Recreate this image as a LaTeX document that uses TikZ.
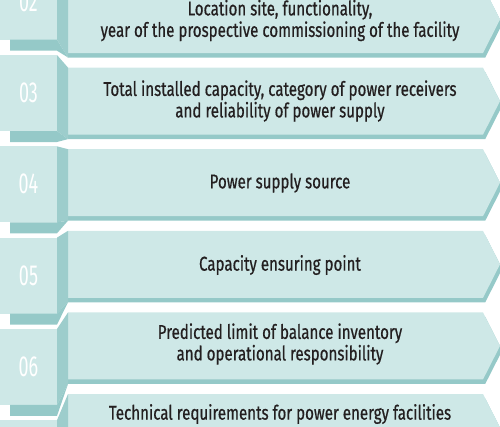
\documentclass[tikz,border=0pt]{standalone}
\usepackage{fontspec}
\setmainfont[FakeStretch=0.755,FakeBold=0.6]{Fira Sans}
\newfontfamily\numfont[FakeStretch=0.62]{Fira Sans}
\definecolor{lightc}{HTML}{CEE8E7}
\definecolor{darkc}{HTML}{95C9C8}
\definecolor{sidec}{HTML}{9DCDCC}
\definecolor{txtc}{HTML}{231F20}
\tikzset{
  maintext/.style={align=center, inner sep=0pt, text=txtc, font=\fontsize{20}{21.5}\selectfont},
  numtext/.style={inner sep=0pt, text=white, font=\numfont\fontsize{29}{29}\selectfont},
  lightfill/.style={fill=lightc},
  darkfill/.style={fill=darkc},
  sidefill/.style={fill=sidec}
}
\begin{document}
\begin{tikzpicture}[x=1pt,y=-1pt]
\useasboundingbox (0,0) rectangle (500,426);
\clip (0,0) rectangle (500,426);
\foreach \i/\ty/\txt in {
  2/20.5/{Location site, functionality,\\year of the prospective commissioning of the facility},
  3/101/{Total installed capacity, category of power receivers\\and reliability of power supply},
  4/183/{Power supply source},
  5/265/{Capacity ensuring point},
  6/344/{Predicted limit of balance inventory\\and operational responsibility},
  7/414/{Technical requirements for power energy facilities}}{
  \pgfmathsetmacro\k{\i-3}
  \pgfmathsetmacro\cn{93+91.3*\k}
  \pgfmathsetmacro\nt{\cn-38}
  \pgfmathsetmacro\nb{\cn+38}
  \pgfmathsetmacro\cm{101.1+81.6*\k}
  \pgfmathsetmacro\mt{\cm-33.5}
  \pgfmathsetmacro\ml{\cm+33.5}
  \pgfmathsetmacro\md{\ml+4.5}
  \pgfmathsetmacro\sb{\nb+11}
  \path[darkfill] (68,\mt+4.5) -- (485.25,\mt+4.5) -- (502.25,\cm+4.5) -- (485.25,\md) -- (68,\md) -- cycle;
  \path[lightfill] (68,\mt) -- (483,\mt) -- (500,\cm) -- (483,\ml) -- (68,\ml) -- cycle;
  \path[lightfill] (0,\nt) rectangle (57,\nb);
  \path[sidefill] (57,\nt) -- (68,\mt) -- (68,\md) -- (57,\nb) -- cycle;
  \path[darkfill] (10,\nb) -- (57,\nb) -- (68,\md) -- (57,\sb) -- (10,\sb) -- cycle;
  \ifnum\i<7 \node[numtext] (num\i) at (28.5,\cn) {0\i};\fi
  \node[maintext] (txt\i) at (280,\ty) {\txt};
}
\end{tikzpicture}
\end{document}
